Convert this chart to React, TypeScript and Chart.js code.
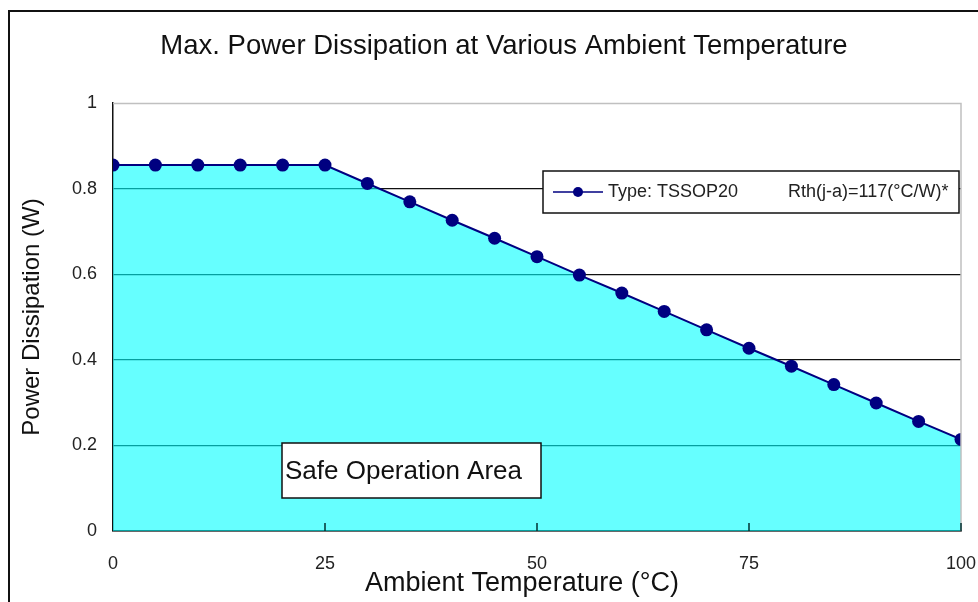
import React, { useEffect, useRef } from "react";
import { Chart, registerables } from "chart.js";

Chart.register(...registerables);

const temperatures = [0, 5, 10, 15, 20, 25, 30, 35, 40, 45, 50, 55, 60, 65, 70, 75, 80, 85, 90, 95, 100];
const powerDissipation = [0.855, 0.855, 0.855, 0.855, 0.855, 0.855, 0.812, 0.769, 0.726, 0.684, 0.641, 0.598, 0.556, 0.513, 0.47, 0.427, 0.385, 0.342, 0.299, 0.256, 0.214];
const xTicks = [0, 25, 50, 75, 100];
const chartTitle = "Max. Power Dissipation at Various Ambient Temperature";
const xTitle = "Ambient Temperature (°C)";
const yTitle = "Power Dissipation (W)";
const legendType = "Type: TSSOP20";
const legendRth = "Rth(j-a)=117(°C/W)*";
const areaLabel = "Safe Operation Area";

const FONT = "'Liberation Sans', Arial, sans-serif";
const NAVY = "#000080";

const decorPlugin = {
  id: "decor",
  beforeDraw(chart: any) {
    const ctx = chart.ctx;
    ctx.save();
    ctx.fillStyle = "#ffffff";
    ctx.fillRect(0, 0, chart.width, chart.height);
    // outer frame
    ctx.strokeStyle = "#111";
    ctx.lineWidth = 2;
    ctx.beginPath();
    ctx.moveTo(9, chart.height + 5);
    ctx.lineTo(9, 11);
    ctx.lineTo(chart.width + 5, 11);
    ctx.stroke();
    // title
    ctx.fillStyle = "#111";
    ctx.font = `27.5px ${FONT}`;
    ctx.textAlign = "center";
    ctx.textBaseline = "middle";
    ctx.fillText(chartTitle, 504, 46);
    // x axis title
    ctx.font = `27px ${FONT}`;
    ctx.fillText(xTitle, 522, 584);
    ctx.restore();
  },
  afterDraw(chart: any) {
    const ctx = chart.ctx;
    const { left, right, top, bottom } = chart.chartArea;
    const xs = chart.scales.x;
    ctx.save();
    // grey top/right plot border
    ctx.strokeStyle = "#c0c0c0";
    ctx.lineWidth = 1.5;
    ctx.beginPath();
    ctx.moveTo(left, top + 0.5);
    ctx.lineTo(right, top + 0.5);
    ctx.lineTo(right, bottom);
    ctx.stroke();
    // inward ticks on x axis
    ctx.strokeStyle = "#003030";
    ctx.lineWidth = 1.5;
    xTicks.forEach((t) => {
      if (t === 0) return;
      const px = Math.round(xs.getPixelForValue(t));
      ctx.beginPath();
      ctx.moveTo(px, bottom);
      ctx.lineTo(px, bottom - 8);
      ctx.stroke();
    });
    // legend box
    const lx = 543, ly = 171, lw = 416, lh = 42;
    ctx.fillStyle = "#ffffff";
    ctx.fillRect(lx, ly, lw, lh);
    ctx.strokeStyle = "#111";
    ctx.lineWidth = 1.5;
    ctx.strokeRect(lx, ly, lw, lh);
    const cy = ly + lh / 2;
    ctx.strokeStyle = NAVY;
    ctx.lineWidth = 1.5;
    ctx.beginPath();
    ctx.moveTo(lx + 10, cy);
    ctx.lineTo(lx + 60, cy);
    ctx.stroke();
    ctx.fillStyle = NAVY;
    ctx.beginPath();
    ctx.arc(lx + 35, cy, 5, 0, Math.PI * 2);
    ctx.fill();
    ctx.fillStyle = "#222";
    ctx.font = `18px ${FONT}`;
    ctx.textAlign = "left";
    ctx.textBaseline = "middle";
    ctx.fillText(legendType, lx + 65, cy);
    ctx.fillText(legendRth, lx + 245, cy, 170);
    // safe operation area box
    const bx = 282, by = 443, bw = 259, bh = 55;
    ctx.fillStyle = "#ffffff";
    ctx.fillRect(bx, by, bw, bh);
    ctx.strokeStyle = "#111";
    ctx.lineWidth = 1.5;
    ctx.strokeRect(bx, by, bw, bh);
    ctx.fillStyle = "#111";
    ctx.font = `26px ${FONT}`;
    ctx.fillText(areaLabel, bx + 3, by + bh / 2 + 1);
    ctx.restore();
  },
};

export default function App() {
  const canvasRef = useRef<HTMLCanvasElement | null>(null);

  useEffect(() => {
    document.body.style.margin = "0";
    const canvas = canvasRef.current;
    if (!canvas) return;
    const chart = new Chart(canvas, {
      type: "line",
      data: {
        datasets: [
          {
            label: legendType,
            data: temperatures.map((t, i) => ({ x: t, y: powerDissipation[i] })),
            borderColor: NAVY,
            borderWidth: 2,
            backgroundColor: "rgba(0,255,255,0.6)",
            fill: "origin",
            pointRadius: 6.5,
            pointBackgroundColor: NAVY,
            pointBorderColor: NAVY,
            pointBorderWidth: 0,
            tension: 0,
          },
        ],
      },
      options: {
        responsive: false,
        animation: false,
        layout: { padding: { left: 0, right: 0, top: 103, bottom: 0 } },
        plugins: {
          legend: { display: false },
          title: { display: false },
          tooltip: { enabled: false },
        },
        scales: {
          x: {
            type: "linear",
            min: 0,
            max: 100,
            afterBuildTicks: (scale: any) => {
              scale.ticks = xTicks.map((v) => ({ value: v }));
            },
            afterFit: (scale: any) => {
              scale.height = 71;
              scale.paddingRight = 17;
              scale.paddingLeft = 0;
            },
            grid: { display: false, drawTicks: false },
            border: { display: true, color: "#111", width: 1.5 },
            ticks: {
              color: "#222",
              padding: 22,
              maxRotation: 0,
              font: { size: 18, family: FONT },
            },
          },
          y: {
            type: "linear",
            min: 0,
            max: 1,
            afterFit: (scale: any) => {
              scale.width = 113;
            },
            grid: {
              drawTicks: false,
              lineWidth: 1.2,
              color: (c: any) => (c.tick && c.tick.value === 1 ? "rgba(0,0,0,0)" : "#111"),
            },
            border: { display: true, color: "#111", width: 1.5 },
            ticks: {
              stepSize: 0.2,
              color: "#222",
              padding: 16,
              font: { size: 18, family: FONT },
              callback: (v: any) => String(Math.round(Number(v) * 10) / 10),
            },
            title: {
              display: true,
              text: yTitle,
              color: "#111",
              font: { size: 24, family: FONT },
              padding: { top: 18, bottom: 0 },
            },
          },
        },
      },
      plugins: [decorPlugin],
    } as any);
    return () => chart.destroy();
  }, []);

  return (
    <div style={{ width: 978, height: 602, position: "relative" }}>
      <canvas ref={canvasRef} width={978} height={602} style={{ display: "block" }} />
    </div>
  );
}
